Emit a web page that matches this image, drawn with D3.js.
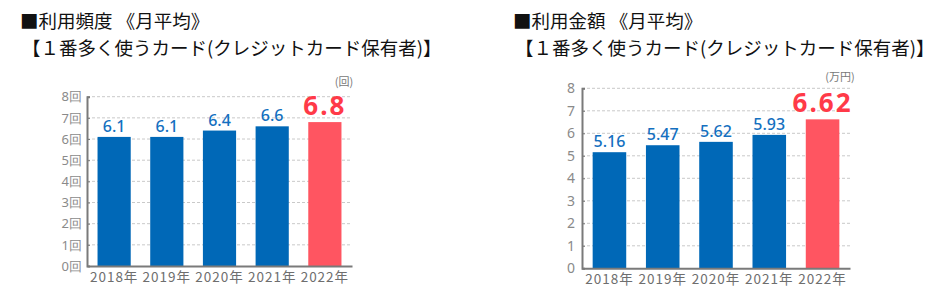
<!DOCTYPE html>
<html lang="ja">
<head>
<meta charset="UTF-8">
<title>利用頻度・利用金額</title>
<script src="https://d3js.org/d3.v7.min.js"></script>
<style>
  body { margin: 0; background: #fff; }
  svg text { font-family: "Noto Sans CJK JP", "Noto Sans", sans-serif; }
</style>
</head>
<body>
<div id="chart"></div>
<script>
// data
const years = ["2018年", "2019年", "2020年", "2021年", "2022年"];
const freqValues = [6.1, 6.1, 6.4, 6.6, 6.8];
const amountValues = [5.16, 5.47, 5.62, 5.93, 6.62];
const yTicks = [0, 1, 2, 3, 4, 5, 6, 7, 8];
const freqTickLabels = ["0回", "1回", "2回", "3回", "4回", "5回", "6回", "7回", "8回"];
const amountTickLabels = ["0", "1", "2", "3", "4", "5", "6", "7", "8"];
const freqTitle = ["■利用頻度 《月平均》", "【１番多く使うカード(クレジットカード保有者)】"];
const amountTitle = ["■利用金額 《月平均》", "【１番多く使うカード(クレジットカード保有者)】"];

const blue = "#0068b7", red = "#ff5561";

const svg = d3.select("#chart").append("svg")
    .attr("width", 943).attr("height", 288);

function drawChart(opt) {
    const g = svg.append("g");

    // title lines
    g.append("text").attr("x", opt.titleX).attr("y", 28)
        .attr("font-size", 18.5).attr("fill", "#111").text(opt.title[0]);
    g.append("text").attr("x", opt.titleX + 2).attr("y", 55)
        .attr("font-size", 18.5).attr("fill", "#111").text(opt.title[1]);

    const x = d3.scaleBand()
        .domain(years)
        .range([opt.x0, opt.x1])
        .paddingInner(0.37)
        .paddingOuter(0.2);

    const y = d3.scaleLinear()
        .domain([0, 8])
        .range([opt.y0, opt.y1]);

    // dashed gridlines
    g.selectAll(".grid").data(yTicks.slice(1)).enter().append("line")
        .attr("x1", opt.x0).attr("x2", opt.x1)
        .attr("y1", d => y(d)).attr("y2", d => y(d))
        .attr("stroke", "#c9c9c9").attr("stroke-width", 1)
        .attr("stroke-dasharray", "3,2");

    // bars
    g.selectAll(".bar").data(opt.values).enter().append("rect")
        .attr("x", (d, i) => x(years[i]))
        .attr("y", d => y(d))
        .attr("width", x.bandwidth())
        .attr("height", d => y(0) - y(d))
        .attr("fill", (d, i) => i === opt.values.length - 1 ? red : blue);

    // y axis
    const yAxis = d3.axisLeft(y)
        .tickValues(yTicks)
        .tickSize(-3)
        .tickPadding(opt.tickPad)
        .tickFormat((d, i) => opt.tickLabels[i]);
    const ya = g.append("g").attr("transform", `translate(${opt.x0},0)`).call(yAxis);
    ya.select(".domain").attr("stroke", "#7a7a7a").attr("stroke-width", 2);
    ya.selectAll(".tick line").attr("stroke", "#7a7a7a");
    ya.selectAll(".tick text").attr("fill", "#8a8a8a")
        .attr("font-size", opt.tickFont)
        .style("font-family", "'Noto Sans', sans-serif");

    // x axis
    const xAxis = d3.axisBottom(x).tickSize(0).tickPadding(6);
    const xa = g.append("g").attr("transform", `translate(0,${opt.y0})`).call(xAxis);
    xa.select(".domain").attr("stroke", "#7a7a7a").attr("stroke-width", 2);
    xa.selectAll(".tick text").attr("fill", "#6e6e6e").attr("font-size", 13.5)
        .attr("letter-spacing", 1);

    // value labels
    g.selectAll(".val").data(opt.values).enter().append("text")
        .attr("x", (d, i) => x(years[i]) + x.bandwidth() / 2)
        .attr("y", (d, i) => y(d) - (i === opt.values.length - 1 ? 7 : 5))
        .attr("text-anchor", "middle")
        .attr("fill", (d, i) => i === opt.values.length - 1 ? "#ff3a48" : "#1470c0")
        .attr("font-size", (d, i) => i === opt.values.length - 1 ? 26 : 16)
        .attr("font-weight", (d, i) => i === opt.values.length - 1 ? 700 : 500)
        .attr("letter-spacing", (d, i) => i === opt.values.length - 1 ? 2 : 0)
        .style("font-family", "'Noto Sans', sans-serif")
        .text(d => d.toFixed(opt.decimals));

    // unit label
    g.append("text")
        .attr("x", opt.unitX).attr("y", opt.unitY)
        .attr("text-anchor", "middle")
        .attr("font-size", 11).attr("fill", "#777")
        .text(opt.unit);
}

drawChart({
    title: freqTitle, titleX: 20,
    x0: 87, x1: 352, y0: 266, y1: 96.7,
    values: freqValues, decimals: 1,
    tickLabels: freqTickLabels, tickFont: 13, tickPad: 5,
    unit: "(回)", unitX: 344, unitY: 86
});

drawChart({
    title: amountTitle, titleX: 513,
    x0: 582, x1: 850, y0: 268.3, y1: 88.3,
    values: amountValues, decimals: 2,
    tickLabels: amountTickLabels, tickFont: 14, tickPad: 7,
    unit: "(万円)", unitX: 840, unitY: 81
});
</script>
</body>
</html>
